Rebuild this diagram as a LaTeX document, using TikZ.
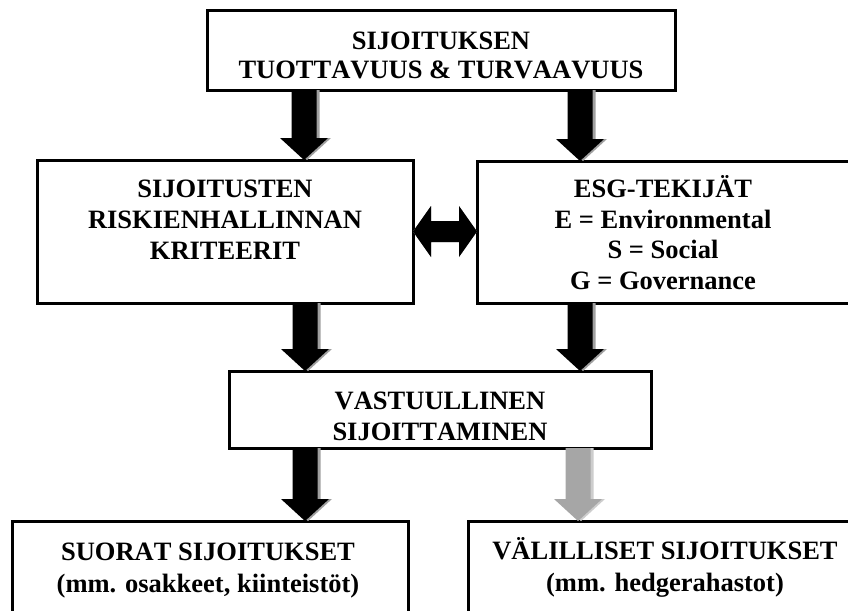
\documentclass[tikz,border=0pt]{standalone}
\usepackage{fontspec}
\setmainfont[Kerning=Off]{Liberation Serif}
\usetikzlibrary{calc}
\definecolor{shad}{RGB}{160,160,160}
\definecolor{garrow}{RGB}{166,166,166}
\definecolor{gshad}{RGB}{205,205,205}
\tikzset{
  box/.style={draw=black, line width=3pt, rectangle, inner sep=0pt, outer sep=0pt, fill=white},
  txt/.style={anchor=base, inner sep=0pt, font=\fontsize{26.5}{31}\selectfont\bfseries}
}
% down block arrow: #1 x, #2 from node, #3 to node, #4 fill
\newcommand\bdown[4]{%
  \fill[#4] let \p1=(#2.south), \p2=(#3.north) in
   (#1pt-12.5pt,\y1) -- (#1pt+12.5pt,\y1) -- (#1pt+12.5pt,\y2+22pt) -- (#1pt+24pt,\y2+22pt)
   -- (#1pt,\y2) -- (#1pt-24pt,\y2+22pt) -- (#1pt-12.5pt,\y2+22pt) -- cycle;}
\begin{document}
\begin{tikzpicture}[x=1pt,y=-1pt]
\useasboundingbox (0,0) rectangle (848,610);
\clip (0,0) rectangle (848,610);
% boxes
\node[box, minimum width=468pt, minimum height=79pt] (top) at (441,50.5) {};
\node[box, minimum width=376pt, minimum height=143pt] (left) at (225,231.5) {};
\node[box, minimum width=372pt, minimum height=142pt] (right) at (663,232) {};
\node[box, minimum width=422pt, minimum height=77pt] (mid) at (440,409.5) {};
\node[box, minimum width=396pt, minimum height=179pt] (bl) at (210,610.5) {};
\node[box, minimum width=394pt, minimum height=179pt] (br) at (665,610.5) {};
% texts
\node[txt] (t1) at (441,50) {SIJOITUKSEN};
\node[txt] (t2) at (441,78) {TUOTTAVUUS \& TURVAAVUUS};
\node[txt] (l1) at (225,197) {SIJOITUSTEN};
\node[txt] (l2) at (225,228) {RISKIENHALLINNAN};
\node[txt] (l3) at (225,259) {KRITEERIT};
\node[txt] (r1) at (663,197) {ESG-TEKIJÄT};
\node[txt] (r2) at (663,228) {E = Environmental};
\node[txt] (r3) at (663,258.5) {S = Social};
\node[txt] (r4) at (663,289) {G = Governance};
\node[txt] (m1) at (440,409) {VASTUULLINEN};
\node[txt] (m2) at (440,440) {SIJOITTAMINEN};
\node[txt] (b1) at (208,560) {SUORAT SIJOITUKSET};
\node[txt] (b2) at (208,592) {(mm. osakkeet, kiinteistöt)};
\node[txt] (c1) at (665,559.5) {VÄLILLISET SIJOITUKSET};
\node[txt] (c2) at (665,591) {(mm. hedgerahastot)};
% arrows with shadows
\begin{scope}[shift={(3pt,-3pt)}]
  \bdown{304}{top}{left}{shad}
  \bdown{580}{top}{right}{shad}
  \bdown{305}{left}{mid}{shad}
  \bdown{580}{right}{mid}{shad}
  \bdown{305}{mid}{bl}{shad}
  \bdown{578}{mid}{br}{gshad}
\end{scope}
\bdown{304}{top}{left}{black}
\bdown{580}{top}{right}{black}
\bdown{305}{left}{mid}{black}
\bdown{580}{right}{mid}{black}
\bdown{305}{mid}{bl}{black}
\bdown{578}{mid}{br}{garrow}
% double arrow
\foreach \s/\c in {{(3pt,-3pt)}/shad,{(0pt,0pt)}/black}{
  \fill[\c, shift=\s] let \p1=(left.east), \p2=(right.west) in
   (\x1,\y1) -- (\x1+18pt,\y1+25.5pt) -- (\x1+18pt,\y1+10.5pt) -- (\x2-18pt,\y1+10.5pt)
   -- (\x2-18pt,\y1+25.5pt) -- (\x2,\y1) -- (\x2-18pt,\y1-25.5pt) -- (\x2-18pt,\y1-10.5pt)
   -- (\x1+18pt,\y1-10.5pt) -- (\x1+18pt,\y1-25.5pt) -- cycle;
}
\end{tikzpicture}
\end{document}
